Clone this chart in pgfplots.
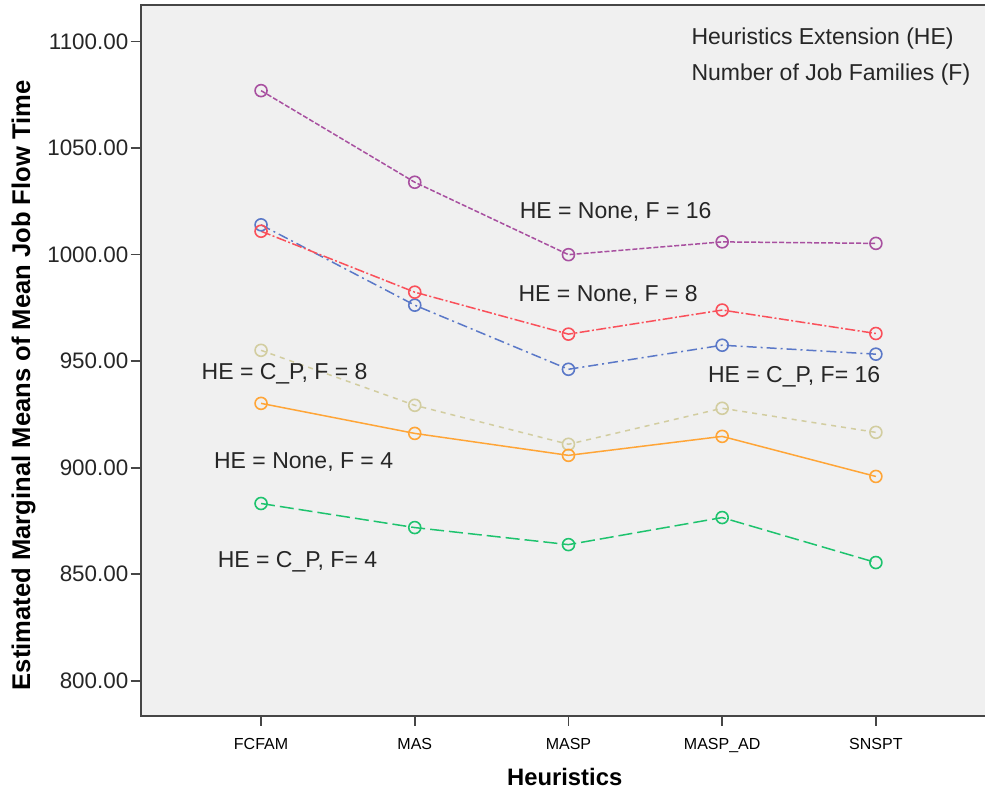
\documentclass[border=0pt]{standalone}
\usepackage{fontspec}
\setmainfont{Liberation Sans}
\usepackage{pgfplots}
\pgfplotsset{compat=1.18}
\definecolor{cpurple}{RGB}{168,80,160}
\definecolor{cred}{RGB}{250,80,90}
\definecolor{cblue}{RGB}{90,120,200}
\definecolor{cbeige}{RGB}{210,205,160}
\definecolor{corange}{RGB}{255,165,55}
\definecolor{cgreen}{RGB}{30,195,110}
\definecolor{bggray}{RGB}{240,240,240}
\definecolor{axgray}{RGB}{70,70,70}
\begin{document}
\begin{tikzpicture}
\begin{axis}[
  scale only axis,
  width=424pt, height=355.35pt,
  xmin=-0.783, xmax=4.734,
  ymin=783.6, ymax=1117.2,
  axis background/.style={fill=bggray},
  axis line style={draw=axgray, line width=1pt},
  tick pos=left,
  tick align=outside,
  major tick length=5pt,
  tick style={draw=axgray, line width=0.8pt},
  xtick={0,1,2,3,4},
  xticklabels={FCFAM,MAS,MASP,MASP\_AD,SNSPT},
  xticklabel style={font=\fontsize{8}{9}\selectfont, text=black, yshift=-3pt},
  ytick={800,850,900,950,1000,1050,1100},
  yticklabel style={/pgf/number format/.cd, fixed, fixed zerofill, precision=2, 1000 sep={}, assume math mode=true, /tikz/.cd, font=\fontsize{11.2}{13}\selectfont, inner sep=1pt, text=black!85},
  xlabel={Heuristics},
  xlabel style={at={(axis description cs:0.5,-0.0862)}, anchor=center, font=\bfseries\fontsize{11.9}{13}\selectfont},
  ylabel={Estimated Marginal Means of Mean Job Flow Time},
  ylabel style={at={(axis description cs:-0.1382,0.465)}, anchor=center, rotate=0, font=\bfseries\fontsize{12.8}{14}\selectfont},
  clip=false,
  every axis plot/.append style={line width=0.75pt, mark=o, mark size=3pt, mark options={solid, line width=0.8pt}},
]
\addplot[color=cpurple, dash pattern=on 2.5pt off 1pt] coordinates {(0,1077)(1,1034)(2,1000)(3,1006)(4,1005.3)};
\addplot[color=cblue, dash pattern=on 5pt off 2pt on 1pt off 2pt] coordinates {(0,1014)(1,976.3)(2,946.2)(3,957.5)(4,953.3)};
\addplot[color=cred, dash pattern=on 5pt off 1.2pt on 1pt off 1.2pt] coordinates {(0,1011)(1,982.4)(2,962.7)(3,974)(4,963)};
\addplot[color=cbeige, dash pattern=on 2.5pt off 2.5pt] coordinates {(0,955.1)(1,929.3)(2,911)(3,927.9)(4,916.6)};
\addplot[color=corange] coordinates {(0,930.2)(1,916.1)(2,905.8)(3,914.7)(4,895.9)};
\addplot[color=cgreen, dash pattern=on 7pt off 2.5pt] coordinates {(0,883.2)(1,871.9)(2,863.9)(3,876.6)(4,855.5)};
\begin{scope}[every node/.style={font=\fontsize{11.5}{13}\selectfont, text=black!85, anchor=center}]
\node at (axis cs:2.307,1020.2) {HE = None, F = 16};
\node at (axis cs:2.258,981.1) {HE = None, F = 8};
\node at (axis cs:3.468,942.7) {HE = C\_P, F= 16};
\node at (axis cs:0.153,944.3) {HE = C\_P, F = 8};
\node at (axis cs:0.277,902.8) {HE = None, F = 4};
\node at (axis cs:0.237,855.9) {HE = C\_P, F= 4};
\node[anchor=west] at (axis cs:2.755,1101.5) {Heuristics Extension (HE)};
\node[anchor=west] at (axis cs:2.755,1084.5) {Number of Job Families (F)};
\end{scope}
\end{axis}
\pgfresetboundingbox
\path[use as bounding box] (current axis.south west) ++(-70.35pt,-37.15pt) rectangle ++(492.5pt,395pt);
\end{tikzpicture}
\end{document}
